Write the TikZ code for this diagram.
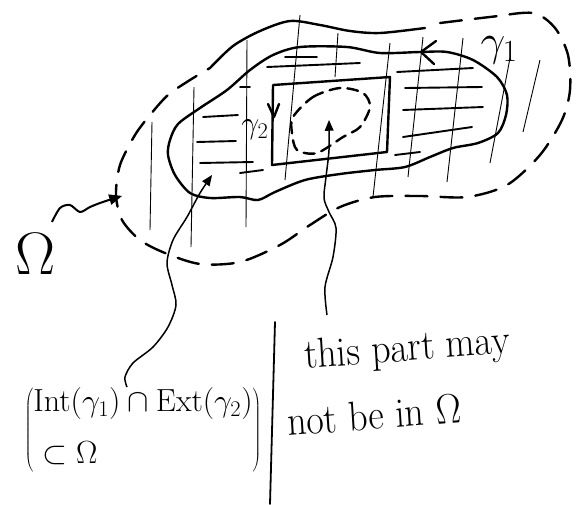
\RequirePackage{fix-cm}
\documentclass[tikz,border=0pt]{standalone}
\usetikzlibrary{arrows,calc,positioning}
\tikzset{
  curve/.style={line width=2.4pt, line join=round, line cap=round},
  boundary/.style={line width=2.4pt, line cap=round, dash pattern=on 22pt off 13pt},
  hatch/.style={line width=1.9pt, line cap=round},
  pencil/.style={line width=0.9pt},
  pointer/.style={line width=1.5pt, -triangle 45},
  lbl/.style={inner sep=0pt, font=\fontsize{44}{48}\selectfont},
  note/.style={inner sep=0pt, xscale=0.9, font=\fontsize{42}{46}\selectfont}
}
\begin{document}
\begin{tikzpicture}[x=1pt,y=-1pt]
    \useasboundingbox (0,0) rectangle (576,504);

    \foreach \xa/\ya/\xb/\yb in {152/122/150/230, 194/87/191/247, 247/40/246/227,
        300/15/285/180, 338/33/335/77, 390/43/373/197, 423/37/408/177,
        463/38/447/182, 510/58/490/163, 540/60/523/132}
      \draw[pencil] (\xa,\ya) -- (\xb,\yb);

    \foreach \xa/\ya/\xb/\yb in {285/57/317/57, 267/67/360/63, 397/72/473/68,
        405/88/482/87, 403/110/483/107, 403/137/472/127, 395/155/420/152,
        240/87/250/87, 203/117/238/115, 197/142/236/141, 200/163/253/162,
        240/173/263/170}
      \draw[hatch] (\xa,\ya) -- (\xb,\yb);

    \draw[curve] plot[smooth] coordinates {(210,68) (233,46) (260,31) (290,21)
        (320,25) (350,31) (380,33) (425,28)};
    \draw[boundary] plot[smooth] coordinates {(440,23) (490,17) (533,13) (555,28)
        (568,55) (570,90) (562,120) (540,155) (507,185) (467,197) (420,196)
        (375,197) (340,207) (310,225) (280,245) (240,262) (200,264) (165,253)
        (140,240) (122,220) (116,195) (120,165) (135,135) (150,115) (168,95)
        (190,80) (210,68)};

    \draw[curve] plot[smooth cycle] coordinates {(170,140) (178,124) (200,108)
        (227,90) (250,70) (273,55) (300,47) (347,47) (380,53) (420,52) (447,52)
        (473,60) (497,77) (507,95) (506,115) (498,133) (478,143) (453,148)
        (430,157) (405,167) (375,170) (340,174) (305,180) (275,192) (258,200)
        (240,197) (210,198) (190,193) (175,175) (168,155)};
    \draw[curve] (436,41) -- (421,52) -- (434,64);

    \coordinate (r1) at (273,85);
    \coordinate (r2) at (390,77);
    \coordinate (r3) at (387,152);
    \coordinate (r4) at (272,165);
    \draw[curve] (r1) -- (r2) -- (r3) -- (r4) -- cycle;
    \draw[curve] (268,104) -- (274,117) -- (279,104);

    \draw[boundary, dash pattern=on 11pt off 7pt] plot[smooth cycle] coordinates
        {(293,117) (313,97) (340,88) (363,93) (370,107) (360,127) (343,137)
        (317,153) (297,150) (292,133)};

    \node[lbl] (g1) at (499,50) {$\gamma_1$};
    \node[lbl, font=\fontsize{32}{36}\selectfont] (g2) at (255,130) {$\gamma_2$};
    \node[lbl, font=\fontsize{60}{64}\selectfont] (om) at (36,254) {$\Omega$};

    \coordinate (omtip) at (122,196);
    \draw[pointer, line width=2pt] plot[smooth] coordinates {(52,222)
        (60,208) (70,205) (80,212) (90,207) (100,203) (112,199) (omtip)};

    \node[lbl, font=\fontsize{32}{36}\selectfont] (incl) at (143,430)
        {$\left(\begin{array}{@{}l@{}}\mathrm{Int}(\gamma_1)\cap\mathrm{Ext}(\gamma_2)\\[16pt]
        \;\subset\Omega\end{array}\right)$};
    \node[note, anchor=base west, rotate=4] (may) at (305,369) {this part may};
    \node[note, anchor=base west, rotate=4] (notin) at (288,436) {not be in $\Omega$};

    \coordinate (lstart) at (127,387);
    \coordinate (intpt) at (212,175);
    \draw[pointer] plot[smooth] coordinates {(lstart) (125,377) (133,363)
        (153,347) (168,327) (176,305) (172,285) (167,263) (173,240) (187,217)
        (200,193) (intpt)};

    \coordinate (rstart) at (327,315);
    \coordinate (holept) at (329,120);
    \draw[pointer] plot[smooth] coordinates {(rstart) (325,287) (333,257)
        (336,228) (329,212) (324,198) (326,177) (329,150) (holept)};

    \coordinate (d1) at (275,322);
    \coordinate (d2) at (270,504);
    \draw[curve, line width=1.8pt] (d1) -- (d2);
\end{tikzpicture}
\end{document}
